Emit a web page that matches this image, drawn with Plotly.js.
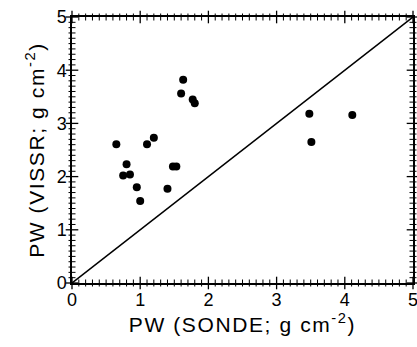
<!DOCTYPE html>
<html><head><meta charset="utf-8">
<script src="https://cdn.plot.ly/plotly-3.0.1.min.js"></script>
<style>html,body{margin:0;padding:0;background:#fff}
.xtitle,.ytitle{letter-spacing:1.6px}</style>
</head><body><div id="c" style="width:417px;height:347px"></div>
<script>
const sondePW = [0.65,0.80,0.75,0.85,1.10,1.20,1.48,1.53,1.60,1.63,1.77,1.80,0.95,1.00,1.40,3.48,4.11,3.51];
const vissrPW = [2.61,2.23,2.02,2.04,2.61,2.73,2.19,2.19,3.56,3.82,3.45,3.38,1.80,1.54,1.77,3.18,3.16,2.65];
const oneToOne = [0,5];
const tickVals = [0,1,2,3,4,5];
const minorTickVals = [0.1,0.2,0.3,0.4,0.5,0.6,0.7,0.8,0.9,
  1.1,1.2,1.3,1.4,1.5,1.6,1.7,1.8,1.9,
  2.1,2.2,2.3,2.4,2.5,2.6,2.7,2.8,2.9,
  3.1,3.2,3.3,3.4,3.5,3.6,3.7,3.8,3.9,
  4.1,4.2,4.3,4.4,4.5,4.6,4.7,4.8,4.9];
const axisEnds = [0,5];
const font = {family:'Liberation Sans, Arial, sans-serif', color:'#000'};
const axisBase = {
  range:[0,5], tickmode:'linear', tick0:0, dtick:1,
  ticks:'outside', ticklen:0, tickwidth:1, tickcolor:'#000',
  showline:true, linecolor:'#000', linewidth:1.5, mirror:'ticks',
  showgrid:false, zeroline:false, ticklabeloverflow:'allow',
  tickfont:Object.assign({size:18}, font)
};
// tick marks along the four frame edges, placed through the axes' own scales
function edge(vals){
  return {
    along:[].concat(...axisEnds.map(() => vals)),
    across:[].concat(...axisEnds.map(e => vals.map(() => e)))
  };
}
const majorEdge = edge(tickVals);
const minorEdge = edge(minorTickVals);
function tickTrace(x, y, symbol, size, width){
  return {x:x, y:y, mode:'markers', cliponaxis:false, hoverinfo:'skip',
    marker:{symbol:symbol, size:size, color:'#000', line:{color:'#000', width:width}}};
}
Plotly.newPlot('c', [
  {x:oneToOne, y:oneToOne, mode:'lines', line:{color:'#000', width:1.5}, hoverinfo:'skip'},
  {x:sondePW, y:vissrPW, mode:'markers', marker:{color:'#000', size:8}},
  tickTrace(majorEdge.along, majorEdge.across, 'line-ns-open', 9, 1.3),
  tickTrace(majorEdge.across, majorEdge.along, 'line-ew-open', 9, 1.3),
  tickTrace(minorEdge.along, minorEdge.across, 'line-ns-open', 5, 1),
  tickTrace(minorEdge.across, minorEdge.along, 'line-ew-open', 5, 1)
], {
  width:417, height:347, showlegend:false,
  margin:{l:72, r:4, t:17, b:64},
  paper_bgcolor:'#fff', plot_bgcolor:'#fff',
  xaxis:Object.assign({}, axisBase, {title:{text:'PW (SONDE; g cm<sup>-2</sup>)', font:Object.assign({size:21}, font), standoff:4}}),
  yaxis:Object.assign({}, axisBase, {title:{text:'PW (VISSR; g cm<sup>-2</sup>)', font:Object.assign({size:21}, font), standoff:6}})
}, {displayModeBar:false});
</script></body></html>
